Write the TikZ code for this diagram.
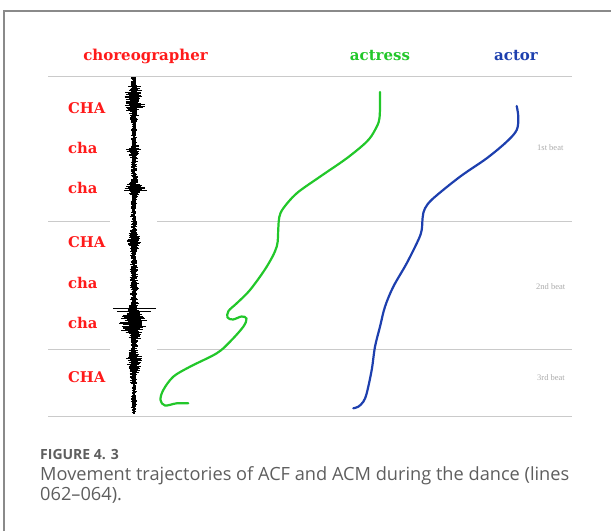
\documentclass[tikz,border=0pt]{standalone}
\usepackage{fontspec}
\setmainfont{DejaVu Serif}
\newfontfamily\capfont{Open Sans}
\newfontfamily\beatfont{Liberation Serif}
\definecolor{hdred}{HTML}{FF1A1A}
\definecolor{hdgreen}{HTML}{22C72A}
\definecolor{hdblue}{HTML}{1D3FAE}
\definecolor{rule}{HTML}{CACACA}
\definecolor{frame}{HTML}{8A8A8A}
\definecolor{beatgray}{HTML}{ABABAB}
\definecolor{capgray}{HTML}{5E5E5E}
\tikzset{
  hdr/.style={anchor=base, font=\fontsize{15}{17}\selectfont\bfseries, inner sep=0pt},
  syl/.style={anchor=base west, font=\fontsize{14.8}{16}\selectfont\bfseries, text=hdred, inner sep=0pt},
  beat/.style={anchor=west, font=\beatfont\fontsize{8.5}{10}\selectfont, text=beatgray, inner sep=0pt},
  rul/.style={draw=rule, line width=1pt},
  traj/.style={line width=2.2pt, line cap=round, line join=round},
  wave/.style={line width=0.4pt, black},
}
\pgfmathdeclarefunction{env}{1}{%
  \pgfmathparse{3.2
   + 9*exp(-min(((#1-100)/13)^2,30))
   + 5*exp(-min(((#1-150)/6)^2,30))
   + 7*exp(-min(((#1-187)/6)^2,30))
   + 5.5*exp(-min(((#1-240)/9)^2,30))
   + 2*exp(-min(((#1-280)/14)^2,30))
   + 14*exp(-min(((#1-322)/13)^2,30))
   + 5.5*exp(-min(((#1-362)/12)^2,30))}%
}
\begin{document}
\begin{tikzpicture}[x=1pt,y=-1pt]
\useasboundingbox (0,0) rectangle (611,531);
% frame
\draw[frame, line width=1.4pt] (4,531) -- (4,11) -- (611,11);
% headers
\node[hdr, text=hdred] (hchor) at (145.5,60.7) {choreographer};
\node[hdr, text=hdgreen] (hact) at (380,60.7) {actress};
\node[hdr, text=hdblue] (hactor) at (516,60.7) {actor};
% rules
\draw[rul] (48,76) -- (572,76);
\draw[rul] (48,221) -- (110,221);
\draw[rul] (157,221) -- (572,221);
\draw[rul] (48,349) -- (110,349);
\draw[rul] (157,349) -- (572,349);
\draw[rul] (48,416.5) -- (572,416.5);
% syllables
\node[syl] (s1) at (68,113) {CHA};
\node[syl] (s2) at (68,153.3) {cha};
\node[syl] (s3) at (68,193.5) {cha};
\node[syl] (s4) at (68,247.5) {CHA};
\node[syl] (s5) at (68,288.5) {cha};
\node[syl] (s6) at (68,328.5) {cha};
\node[syl] (s7) at (68,382.5) {CHA};
% waveform
\pgfmathsetseed{11}
\foreach \i in {0,...,1120} {%
  \pgfmathsetmacro\yy{77+\i*0.3}%
  \pgfmathsetmacro\ee{env(\yy)}%
  \pgfmathsetmacro\la{\ee*(0.22+0.9*rnd*rnd)}%
  \pgfmathsetmacro\ra{\ee*(0.22+0.9*rnd*rnd)}%
  \draw[wave] (134-\la,\yy) -- (134+\ra,\yy);
}
\draw[wave] (113,308) -- (156,308);
\draw[wave] (117,311) -- (151,311);
\draw[wave] (124,190) -- (147,190);
% beat labels
\node[beat] (b1) at (537,148) {1st beat};
\node[beat] (b2) at (536,287) {2nd beat};
\node[beat] (b3) at (537,378) {3rd beat};
% actress trajectory
\draw[traj, hdgreen] plot[smooth, tension=0.55] coordinates {
 (380,92) (379.5,118) (375,130) (366.7,141.7) (346.7,158.3) (320,176.7)
 (296.7,193.3) (283.3,208.3) (279.3,217) (278.3,228) (276.7,246.7)
 (266.7,266.7) (250,290) (236.7,303.3) (228.5,311) (227.5,317.5)
 (233,319.5) (241.5,316.5) (246.5,318.5) (243.3,326.7) (230,341.7)
 (216.7,353.3) (190,366.7) (173.3,376.7) (163.3,390) (160.5,400)
 (165,405.5) (176.7,403.3) (188.3,403.3)};
% actor trajectory
\draw[traj, hdblue] plot[smooth, tension=0.55] coordinates {
 (516.7,106) (518.3,117) (516.7,130) (506.7,141.7) (486.7,158.3)
 (460,176.7) (433.3,198.3) (425,208.3) (422.7,217) (421.7,230)
 (418.3,240) (406.7,263.3) (393.3,286.7) (385,306.7) (380,326.7)
 (375,346.7) (371.7,370) (366.7,393.3) (363.3,401.7) (358.3,406.7)
 (353.3,408.3)};
% caption
\node[anchor=base west, inner sep=0pt, text=capgray, font=\capfont\bfseries\fontsize{14}{16}\selectfont] (fig) at (40,459) {FIGURE 4. 3};
\node[anchor=base west, inner sep=0pt, text=capgray, font=\capfont\fontsize{18.2}{21}\selectfont] (cap1) at (40,480) {Movement trajectories of ACF and ACM during the dance (lines};
\node[anchor=base west, inner sep=0pt, text=capgray, font=\capfont\fontsize{18.2}{21}\selectfont] (cap2) at (40,500) {062–064).};
\end{tikzpicture}
\end{document}
